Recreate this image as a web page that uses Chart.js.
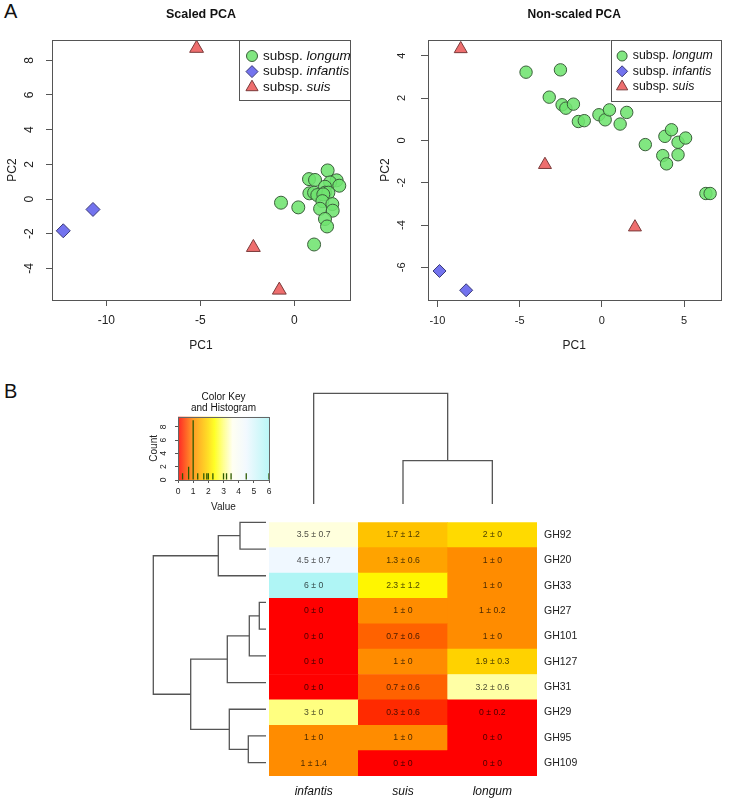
<!DOCTYPE html>
<html>
<head>
<meta charset="utf-8">
<script src="https://cdn.jsdelivr.net/npm/chart.js@4.4.1/dist/chart.umd.min.js"></script>
<style>
body { margin:0; background:#fff; width:729px; height:800px; position:relative; overflow:hidden; font-family:"Liberation Sans", Arial, sans-serif; }
canvas { position:absolute; }
.panel { position:absolute; font-size:20px; color:#111; }
</style>
</head>
<body>
<div class="panel" style="left:4px;top:0px">A</div>
<div class="panel" style="left:4px;top:380px">B</div>
<canvas id="scaled" width="365" height="360" style="left:0;top:0"></canvas>
<canvas id="nonscaled" width="364" height="360" style="left:365px;top:0"></canvas>
<canvas id="key" width="150" height="135" style="left:140px;top:380px"></canvas>
<canvas id="colTree" width="268" height="116" style="left:269px;top:388px"></canvas>
<canvas id="rowTree" width="126" height="267" style="left:140px;top:509px"></canvas>
<canvas id="heat" width="460" height="291" style="left:269px;top:509px"></canvas>
<script>
// ---- PCA scores, [PC1, PC2] ----
const scaledLongum = [[1.77,1.65],[0.78,1.15],[1.10,1.10],[2.25,1.08],[1.90,0.96],[2.39,0.77],[1.63,0.71],
  [0.80,0.33],[1.05,0.37],[1.22,0.23],[1.63,0.37],[1.81,0.37],[1.54,0.27],[1.49,-0.12],[-0.71,-0.21],
  [0.21,-0.48],[2.02,-0.29],[2.04,-0.67],[1.37,-0.56],[1.63,-1.15],[1.74,-1.58],[1.05,-2.62]];
const scaledInfantis = [[-12.29,-1.83],[-10.71,-0.60]];
const scaledSuis = [[-5.20,8.69],[-2.18,-2.79],[-0.80,-5.25]];

const rawLongum = [[-4.61,3.22],[-2.52,3.33],[-3.20,2.04],[-2.42,1.68],[-2.19,1.52],[-1.73,1.71],[-1.43,0.89],
  [-1.07,0.93],[-0.18,1.21],[0.20,0.97],[0.46,1.44],[1.51,1.32],[1.11,0.77],[2.64,-0.20],[3.83,0.19],
  [4.23,0.50],[4.63,-0.09],[5.09,0.11],[3.70,-0.72],[3.93,-1.11],[4.63,-0.68],[6.32,-2.51],[6.58,-2.51]];
const rawInfantis = [[-9.87,-6.17],[-8.25,-7.08]];
const rawSuis = [[-8.58,4.32],[-3.46,-1.15],[2.01,-4.10]];

const scaledXTicks = [-10, -5, 0];
const scaledYTicks = [-4, -2, 0, 2, 4, 6, 8];
const rawXTicks = [-10, -5, 0, 5];
const rawYTicks = [-6, -4, -2, 0, 2, 4];

// ---- heatmap: mean and sd per GH family ----
const columns = ['infantis', 'suis', 'longum'];
const families = ['GH92','GH20','GH33','GH27','GH101','GH127','GH31','GH29','GH95','GH109'];
const meanInfantis = [3.5, 4.5, 6, 0, 0, 0, 0, 3, 1, 1];
const sdInfantis   = [0.7, 0.7, 0, 0, 0, 0, 0, 0, 0, 1.4];
const meanSuis     = [1.7, 1.3, 2.3, 1, 0.7, 1, 0.7, 0.3, 1, 0];
const sdSuis       = [1.2, 0.6, 1.2, 0, 0.6, 0, 0.6, 0.6, 0, 0];
const meanLongum   = [2, 1, 1, 1, 1, 1.9, 3.2, 0, 0, 0];
const sdLongum     = [0, 0, 0, 0.2, 0, 0.3, 0.6, 0.2, 0, 0];

// dendrograms: [a, b, height]; negative = leaf (1-based, display order), positive = earlier merge
const rowMerges = [[-1,-2,2.6],[1,-3,4.77],[-4,-5,0.67],[3,-6,1.67],[4,-7,3.87],[-9,-10,1.77],[-8,6,3.67],[5,7,7.53],[2,8,11.27]];
const colMerges = [[-2,-3,4.33],[-1,1,11.07]];

// colour key histogram
const histValues = [0.3, 0.7, 1, 1.3, 1.7, 1.9, 2, 2.3, 3, 3.2, 3.5, 4.5, 6];
const histCounts = [1, 2, 9, 1, 1, 1, 1, 1, 1, 1, 1, 1, 1];
const keyTicksX = [0, 1, 2, 3, 4, 5, 6];
const keyTicksY = [0, 2, 4, 6, 8];

const FONT = '"Liberation Sans", Arial, sans-serif';
Chart.defaults.font.family = FONT;
Chart.defaults.color = '#222';
Chart.defaults.animation = false;

const keyStops = [[0,'#ff0000'],[1,'#ff8c00'],[2,'#ffda00'],[2.4,'#ffff00'],[3,'#ffff80'],[3.6,'#fffff0'],[4.5,'#f0f8ff'],[6,'#aff5f5']];

function hexRgb(h) { return [1,3,5].map(i => parseInt(h.substr(i, 2), 16)); }
function valueColor(v) {
    for (let i = 1; i < keyStops.length; i++) {
        if (v <= keyStops[i][0]) {
            const [v0, c0] = keyStops[i-1], [v1, c1] = keyStops[i];
            const t = (v - v0) / (v1 - v0), a = hexRgb(c0), b = hexRgb(c1);
            return 'rgb(' + a.map((x, k) => Math.round(x + (b[k] - x) * t)).join(',') + ')';
        }
    }
    return keyStops[keyStops.length-1][1];
}

const markerStyle = {
    longum:   { shape: 'circle',  fill: 'rgba(112,228,112,0.88)', line: '#3a5e3a' },
    infantis: { shape: 'rectRot', fill: '#7373ee', line: '#3a3a78' },
    suis:     { shape: 'triangle', fill: '#ee6e6e', line: '#7a3a3a' }
};

function drawMarker(ctx, shape, x, y, r) {
    ctx.beginPath();
    if (shape === 'circle') ctx.arc(x, y, r, 0, 2 * Math.PI);
    else if (shape === 'rectRot') { ctx.moveTo(x, y - r); ctx.lineTo(x + r, y); ctx.lineTo(x, y + r); ctx.lineTo(x - r, y); ctx.closePath(); }
    else { ctx.moveTo(x, y - r); ctx.lineTo(x + r * 0.866, y + r * 0.5); ctx.lineTo(x - r * 0.866, y + r * 0.5); ctx.closePath(); }
    ctx.fill(); ctx.stroke();
}

// box around the plot area
const frame = {
    id: 'frame',
    afterDraw(chart, args, opts) {
        const a = chart.chartArea, ctx = chart.ctx;
        ctx.save(); ctx.strokeStyle = opts.color || '#555'; ctx.lineWidth = 1;
        ctx.strokeRect(Math.round(a.left) + 0.5, Math.round(a.top) + 0.5, Math.round(a.right - a.left), Math.round(a.bottom - a.top));
        ctx.restore();
    }
};

// R style y tick labels, read bottom to top
const rotatedYTicks = {
    id: 'rotatedYTicks',
    afterDraw(chart, args, opts) {
        const s = chart.scales.y, ctx = chart.ctx;
        ctx.save(); ctx.font = opts.font; ctx.fillStyle = '#222'; ctx.textAlign = 'center'; ctx.textBaseline = 'middle';
        s.ticks.forEach(t => {
            ctx.save();
            ctx.translate(chart.chartArea.left - opts.offset, s.getPixelForValue(t.value));
            ctx.rotate(-Math.PI / 2);
            ctx.fillText(String(t.value), 0, 0);
            ctx.restore();
        });
        ctx.restore();
    }
};

const plotTitle = {
    id: 'plotTitle',
    afterDraw(chart, args, opts) {
        const ctx = chart.ctx, a = chart.chartArea;
        ctx.save(); ctx.font = opts.font; ctx.fillStyle = '#111'; ctx.textAlign = 'center'; ctx.textBaseline = 'middle';
        opts.lines.forEach((l, i) => ctx.fillText(l, (a.left + a.right) / 2, opts.y + i * (opts.gap || 0)));
        ctx.restore();
    }
};

const pcaLegend = {
    id: 'pcaLegend',
    afterDraw(chart, args, o) {
        const ctx = chart.ctx, a = chart.chartArea;
        const x0 = a.right - o.w, y0 = a.top;
        ctx.save();
        ctx.fillStyle = '#fff'; ctx.fillRect(x0, y0, o.w, o.h);
        ctx.strokeStyle = '#555'; ctx.lineWidth = 1;
        ctx.strokeRect(Math.round(x0) + 0.5, Math.round(y0) + 0.5, Math.round(o.w), Math.round(o.h));
        ['longum', 'infantis', 'suis'].forEach((sp, i) => {
            const y = y0 + o.first + i * o.step, st = markerStyle[sp];
            ctx.fillStyle = st.fill; ctx.strokeStyle = st.line;
            drawMarker(ctx, st.shape, x0 + o.mx, y, o.r[i]);
            ctx.fillStyle = '#111'; ctx.textBaseline = 'middle'; ctx.textAlign = 'left';
            ctx.font = o.size + 'px ' + FONT;
            ctx.fillText('subsp. ', x0 + o.tx, y);
            const w = ctx.measureText('subsp. ').width;
            ctx.font = 'italic ' + o.size + 'px ' + FONT;
            ctx.fillText(sp, x0 + o.tx + w, y);
        });
        ctx.restore();
    }
};

function series(points, sp, r) {
    const st = markerStyle[sp];
    return {
        data: points.map(p => ({ x: p[0], y: p[1] })),
        pointStyle: st.shape, pointRadius: r, pointHoverRadius: r,
        backgroundColor: st.fill, borderColor: st.line, borderWidth: 1
    };
}

function pcaChart(id, c) {
    return new Chart(document.getElementById(id), {
        type: 'scatter',
        data: { datasets: [series(c.longum, 'longum', c.r[0]), series(c.infantis, 'infantis', c.r[1]), series(c.suis, 'suis', c.r[2])] },
        options: {
            responsive: false,
            layout: { padding: { top: 40, right: c.padRight, left: 0, bottom: 0 } },
            plugins: {
                legend: { display: false }, tooltip: { enabled: false },
                rotatedYTicks: { offset: c.tickOffset, font: c.tickSize + 'px ' + FONT },
                plotTitle: { lines: [c.title], y: 15, font: 'bold ' + c.titleSize + 'px ' + FONT },
                pcaLegend: c.legend
            },
            scales: {
                x: {
                    type: 'linear', min: c.xRange[0], max: c.xRange[1],
                    afterBuildTicks: s => { s.ticks = c.xTicks.map(v => ({ value: v })); },
                    afterFit: s => { s.height = 60; },
                    grid: { drawOnChartArea: false, tickLength: c.tickLen, color: '#555' },
                    border: { display: false },
                    ticks: { font: { size: c.tickSize }, padding: 7, color: '#222' },
                    title: { display: true, text: 'PC1', font: { size: 12 }, color: '#222', padding: { top: 0, bottom: 7 } }
                },
                y: {
                    type: 'linear', min: c.yRange[0], max: c.yRange[1],
                    afterBuildTicks: s => { s.ticks = c.yTicks.map(v => ({ value: v })); },
                    afterFit: s => { s.width = c.yWidth; },
                    grid: { drawOnChartArea: false, tickLength: c.tickLen, color: '#555' },
                    border: { display: false },
                    ticks: { display: false },
                    title: { display: true, text: 'PC2', font: { size: 12 }, color: '#222', padding: { top: c.yTitlePad, bottom: 0 } }
                }
            }
        },
        plugins: [frame, rotatedYTicks, plotTitle, pcaLegend]
    });
}

pcaChart('scaled', {
    longum: scaledLongum, infantis: scaledInfantis, suis: scaledSuis,
    r: [6.5, 7, 8], title: 'Scaled PCA', titleSize: 12.5, tickSize: 12, tickLen: 6, tickOffset: 22,
    padRight: 15, yWidth: 52, yTitlePad: 5,
    xRange: [-12.89, 2.96], yRange: [-5.82, 9.17], xTicks: scaledXTicks, yTicks: scaledYTicks,
    legend: { w: 111, h: 60, mx: 13, tx: 24, first: 16, step: 15.6, size: 13.5, r: [5.5, 6, 7] }
});

pcaChart('nonscaled', {
    longum: rawLongum, infantis: rawInfantis, suis: rawSuis,
    r: [6.2, 6.5, 7.5], title: 'Non-scaled PCA', titleSize: 12, tickSize: 11, tickLen: 7, tickOffset: 26,
    padRight: 2, yWidth: 63, yTitlePad: 13,
    xRange: [-10.57, 7.21], yRange: [-7.54, 4.74], xTicks: rawXTicks, yTicks: rawYTicks,
    legend: { w: 110, h: 61, mx: 11.6, tx: 22.3, first: 16, step: 15.3, size: 12.3, r: [5, 5.5, 6.5] }
});

// ---- colour key with histogram ----
const keyGradient = {
    id: 'keyGradient',
    beforeDatasetsDraw(chart) {
        const ctx = chart.ctx, a = chart.chartArea, sx = chart.scales.x;
        const x0 = sx.getPixelForValue(0), x1 = sx.getPixelForValue(6);
        const g = ctx.createLinearGradient(x0, 0, x1, 0);
        keyStops.forEach(([v, col]) => g.addColorStop(v / 6, col));
        ctx.save(); ctx.globalAlpha = 0.85; ctx.fillStyle = g; ctx.fillRect(a.left, a.top, a.right - a.left, a.bottom - a.top); ctx.restore();
    }
};

new Chart(document.getElementById('key'), {
    type: 'bar',
    data: { datasets: [{ data: histValues.map((v, i) => ({ x: v, y: histCounts[i] })), backgroundColor: '#2d5a00',
        barThickness: 1.3, inflateAmount: 0, borderWidth: 0 }] },
    options: {
        responsive: false,
        layout: { padding: { top: 36.7, right: 21, left: 0, bottom: 0 } },
        plugins: {
            legend: { display: false }, tooltip: { enabled: false },
            rotatedYTicks: { offset: 14, font: '8.5px ' + FONT },
            plotTitle: { lines: ['Color Key', 'and Histogram'], y: 17.3, gap: 11.4, font: '10px ' + FONT },
            frame: { color: '#666' }
        },
        scales: {
            x: {
                type: 'linear', min: 0, max: 6, offset: false,
                afterBuildTicks: s => { s.ticks = keyTicksX.map(v => ({ value: v })); },
                afterFit: s => { s.height = 35; },
                grid: { drawOnChartArea: false, tickLength: 3, color: '#555', offset: false },
                border: { display: false },
                ticks: { font: { size: 8.5 }, padding: 4, color: '#222' },
                title: { display: true, text: 'Value', font: { size: 10 }, color: '#222', padding: { top: 0, bottom: 1.5 } }
            },
            y: {
                type: 'linear', min: 0, max: 9.55,
                afterBuildTicks: s => { s.ticks = keyTicksY.map(v => ({ value: v })); },
                afterFit: s => { s.width = 38; },
                grid: { drawOnChartArea: false, tickLength: 3, color: '#555' },
                border: { display: false },
                ticks: { display: false },
                title: { display: true, text: 'Count', font: { size: 10 }, color: '#222', padding: { top: 8, bottom: 0 } }
            }
        }
    },
    plugins: [keyGradient, frame, rotatedYTicks, plotTitle]
});

// ---- dendrograms ----
function dendroSegments(merges) {
    const pos = [], hgt = [];
    const node = i => i < 0 ? [-i - 1 + 0.5, 0] : [pos[i - 1], hgt[i - 1]];
    return merges.map(([a, b, h], k) => {
        const [pa, ha] = node(a), [pb, hb] = node(b);
        pos[k] = (pa + pb) / 2; hgt[k] = h;
        return [[ha, pa], [h, pa], [h, pb], [hb, pb]];
    });
}

function treeChart(id, merges, horizontal, hMax, n) {
    const segs = dendroSegments(merges);
    const hScale = { type: 'linear', min: 0, max: hMax, display: false, reverse: horizontal };
    const pScale = { type: 'linear', min: 0, max: n, display: false, reverse: horizontal };
    return new Chart(document.getElementById(id), {
        type: 'scatter',
        data: {
            datasets: segs.map(s => ({
                data: s.map(([h, p]) => horizontal ? { x: h, y: p } : { x: p, y: h }),
                showLine: true, pointRadius: 0, borderColor: '#555', borderWidth: 1.3, clip: false
            }))
        },
        options: {
            responsive: false,
            layout: { padding: 0 },
            plugins: { legend: { display: false }, tooltip: { enabled: false } },
            scales: horizontal ? { x: hScale, y: pScale } : { x: pScale, y: hScale }
        }
    });
}

treeChart('rowTree', rowMerges, true, 12.6, families.length);
treeChart('colTree', colMerges, false, 11.6, columns.length);

// ---- heatmap ----
const means = [meanInfantis, meanSuis, meanLongum];
const sds = [sdInfantis, sdSuis, sdLongum];

const cellText = {
    id: 'cellText',
    afterDatasetsDraw(chart) {
        const ctx = chart.ctx;
        ctx.save(); ctx.font = '8.7px ' + FONT; ctx.textAlign = 'center'; ctx.textBaseline = 'middle';
        ctx.fillStyle = 'rgba(0,0,0,0.72)';
        chart.data.datasets.forEach((ds, d) => {
            chart.getDatasetMeta(d).data.forEach((bar, c) => {
                const r = ds.row;
                ctx.fillText(means[c][r] + ' \u00b1 ' + sds[c][r], bar.x, (bar.y + bar.base) / 2);
            });
        });
        ctx.restore();
    }
};

new Chart(document.getElementById('heat'), {
    type: 'bar',
    data: {
        labels: columns,
        datasets: families.map((f, r) => ({
            row: r,
            data: columns.map(() => 1),
            backgroundColor: means.map(m => valueColor(m[r])),
            borderWidth: 0,
            categoryPercentage: 1, barPercentage: 1
        })).reverse()
    },
    options: {
        responsive: false,
        layout: { padding: 0 },
        plugins: { legend: { display: false }, tooltip: { enabled: false } },
        scales: {
            x: {
                stacked: true,
                afterFit: s => { s.height = 24; },
                grid: { display: false, drawTicks: false },
                border: { display: false },
                ticks: { font: { size: 12, style: 'italic' }, color: '#111', padding: 8.5 }
            },
            y: {
                stacked: true, position: 'right', min: 0, max: 10,
                afterBuildTicks: s => { s.ticks = families.map((f, i) => ({ value: i + 0.5 })); },
                afterFit: s => { s.width = 192; },
                grid: { display: false, drawTicks: false },
                border: { display: false },
                ticks: { font: { size: 10.5 }, color: '#222', padding: 7,
                    callback: v => families[families.length - 1 - Math.floor(v)] }
            }
        }
    },
    plugins: [cellText]
});
</script>
</body>
</html>
